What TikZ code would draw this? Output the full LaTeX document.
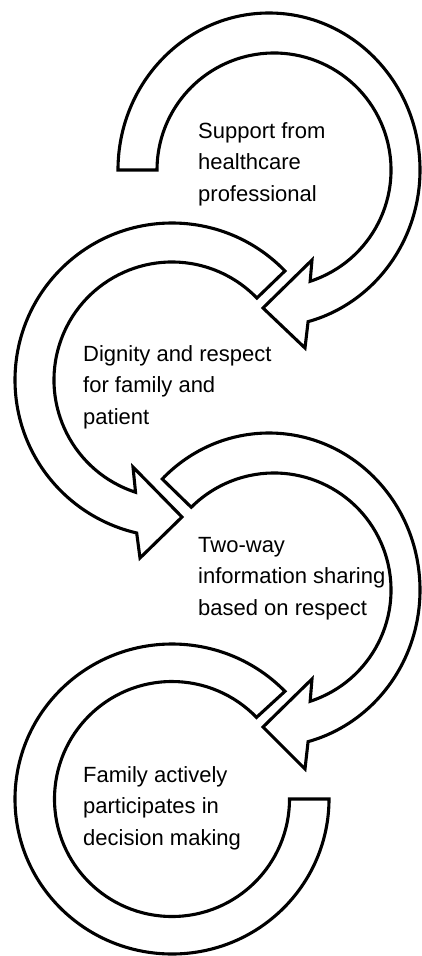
\documentclass[tikz,border=0pt]{standalone}
\usepackage{fontspec}
\setmainfont{Liberation Sans}
\usetikzlibrary{calc}
\begin{document}
\begin{tikzpicture}[x=1pt,y=-1pt,
  band/.style={draw=black, line width=3.1pt, fill=white, line join=miter},
  lbl/.style={anchor=base west, align=left, inner sep=0pt, font=\fontsize{22}{31.5}\selectfont}]
\fill[white] (0,0) rectangle (422,956);
\useasboundingbox (0,0) rectangle (422,956);
% centres
\coordinate (c1o) at (269,170);
\coordinate (c1i) at (274,170);
\coordinate (c2) at (172,380);
\coordinate (c3o) at (269,590);
\coordinate (c3i) at (274,590);
\coordinate (c4) at (172,799);
% head points
\coordinate (h1ob) at (305,348);
\coordinate (h1t) at (263,308);
\coordinate (h1ib) at (312,260);
\coordinate (h2ob) at (140,558);
\coordinate (h2t) at (182,517);
\coordinate (h2ib) at (133,467);
\coordinate (h3ob) at (305,769);
\coordinate (h3t) at (263,727);
\coordinate (h3ib) at (312,679);
% arrow 2 (left, Dignity)
\draw[band] ($(c2)+(-44:157)$) arc[start angle=-44, end angle=-257, radius=157]
  -- (h2ob) -- (h2t) -- (h2ib) -- ($(c2)+(-252:118)$)
  arc[start angle=-252, end angle=-44, radius=118] -- cycle;
% arrow 4 (bottom left, Family)
\draw[band] ($(c4)+(-44:157 and 155)$) arc[start angle=-44, end angle=-360, x radius=157, y radius=155]
  -- ($(c4)+(0:117.5)$)
  arc[start angle=-360, end angle=-44, radius=117.5] -- cycle;
% arrow 1 (top right, Support)
\draw[band] ($(c1o)+(180:151 and 157)$) arc[start angle=180, end angle=435, x radius=151, y radius=157]
  -- (h1ob) -- (h1t) -- (h1ib) -- ($(c1i)+(72:117)$)
  arc[start angle=72, end angle=-180, radius=117] -- cycle;
% arrow 3 (right, Two-way)
\draw[band] ($(c3o)+(225:151 and 157)$) arc[start angle=225, end angle=435, x radius=151, y radius=157]
  -- (h3ob) -- (h3t) -- (h3ib) -- ($(c3i)+(72:117)$)
  arc[start angle=72, end angle=-135, radius=117] -- cycle;
% labels (base anchor = last line baseline)
\node[lbl] (t1) at (198,201) {Support from\\healthcare\\professional};
\node[lbl] (t2) at (83,424) {Dignity and respect\\for family and\\patient};
\node[lbl] (t3) at (198,615) {Two-way\\information sharing\\based on respect};
\node[lbl] (t4) at (83,845) {Family actively\\participates in\\decision making};
\end{tikzpicture}
\end{document}
